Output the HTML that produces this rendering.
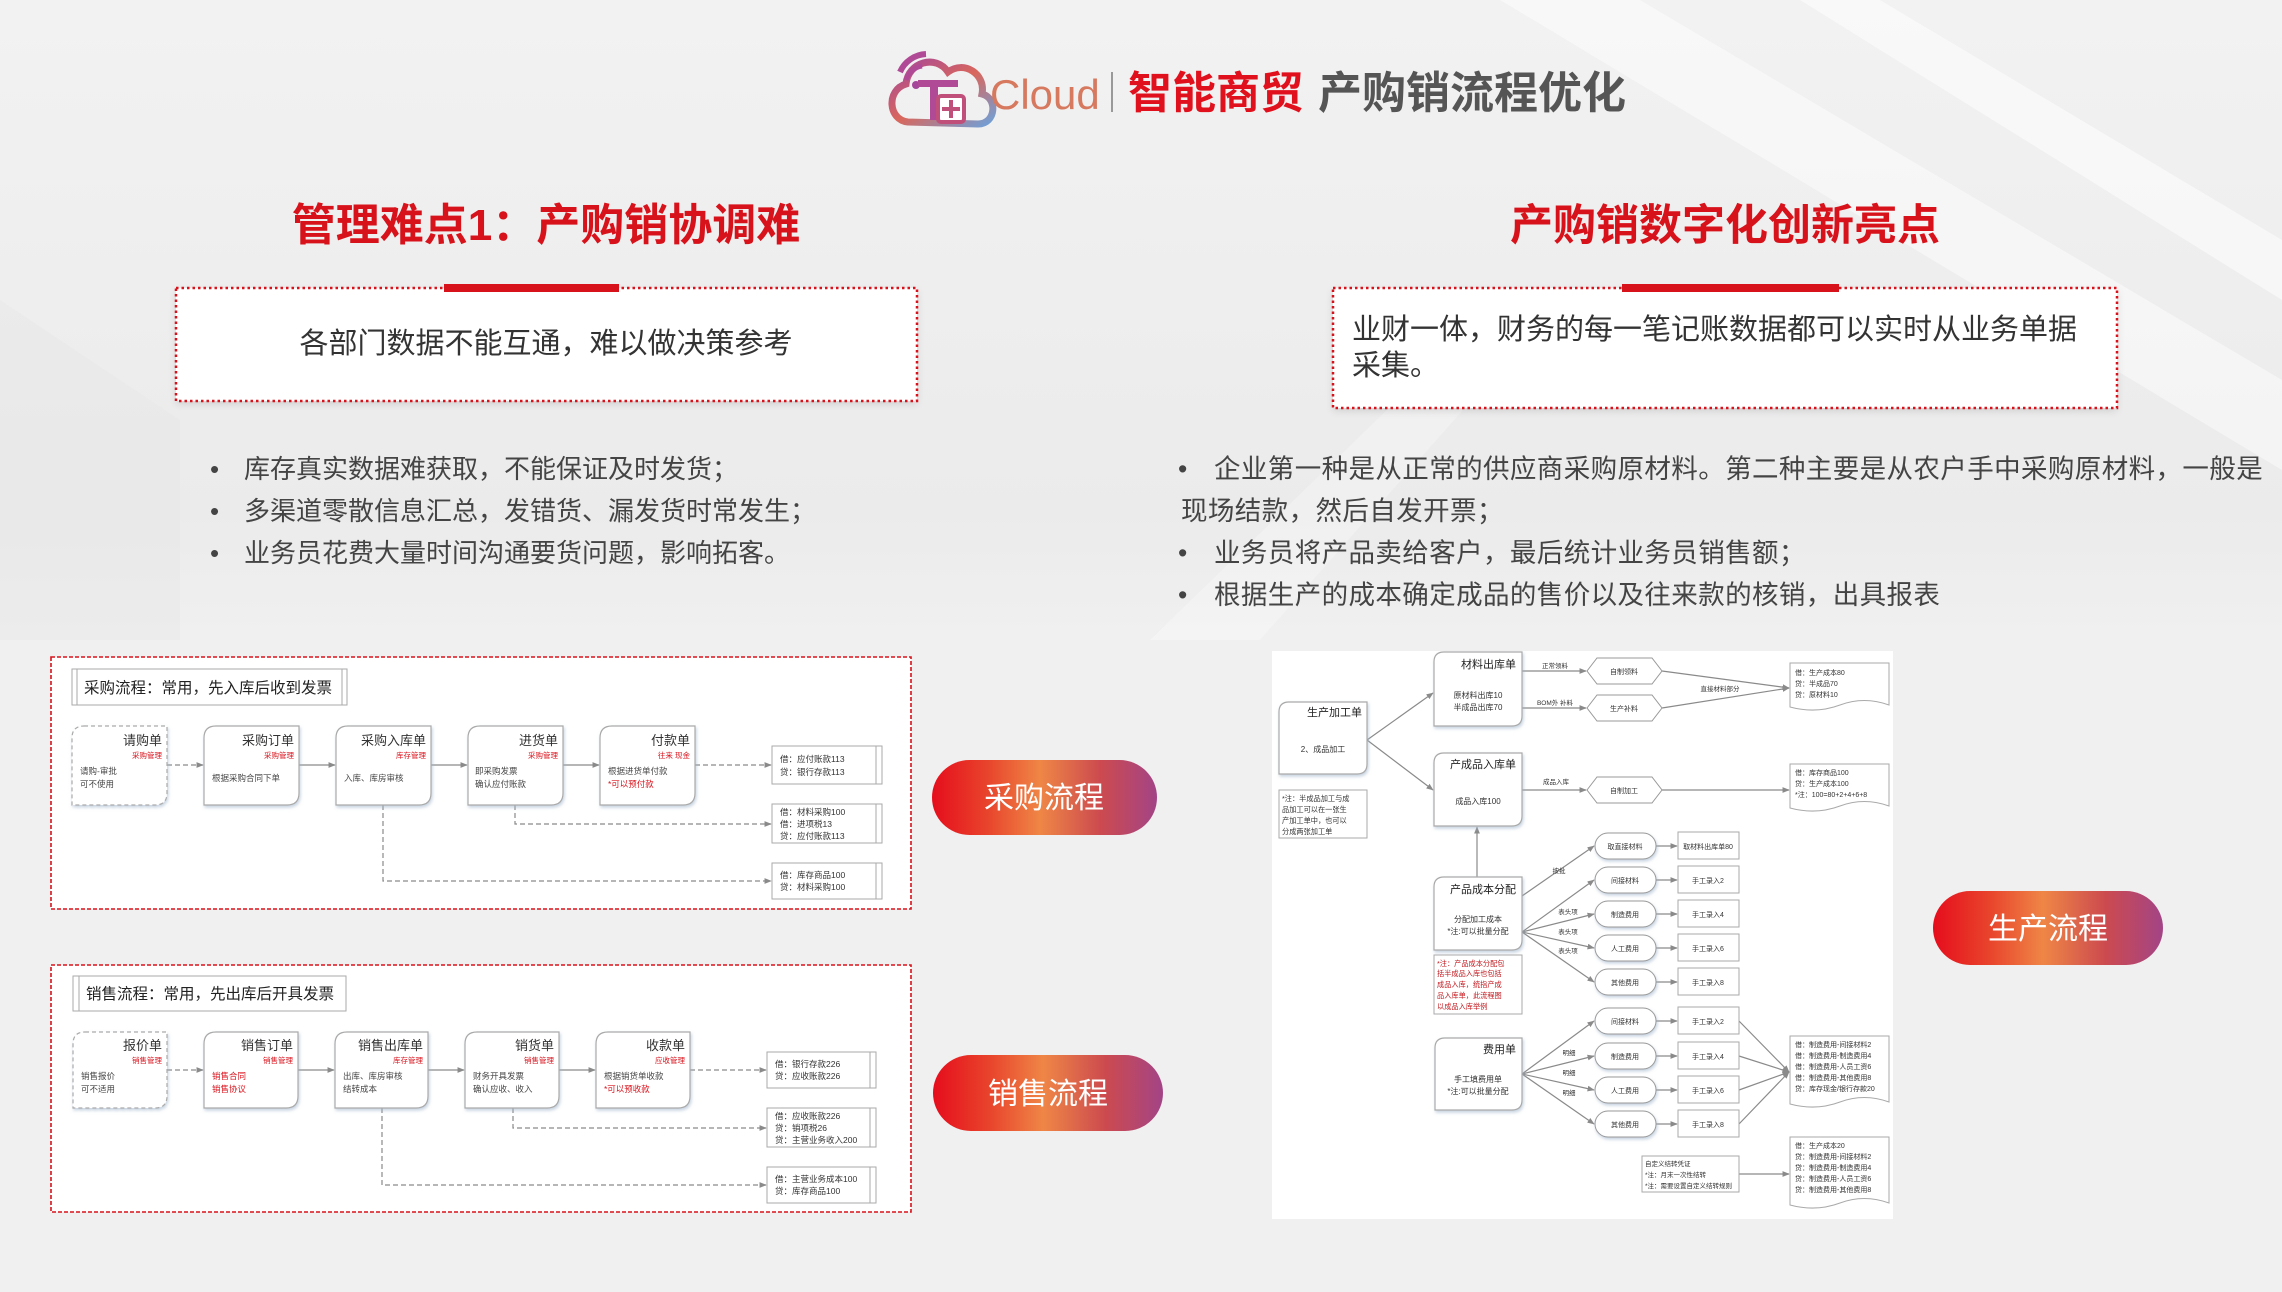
<!DOCTYPE html>
<html><head><meta charset="utf-8"><style>
html,body{margin:0;padding:0;}
body{width:2282px;height:1292px;overflow:hidden;background:#f0f0f0;font-family:"Liberation Sans","Noto Sans CJK SC",sans-serif;}
svg{position:absolute;left:0;top:0;}
svg text{font-family:"Liberation Sans","Noto Sans CJK SC",sans-serif;}
</style></head><body>
<svg width="2282" height="1292" viewBox="0 0 2282 1292" xmlns="http://www.w3.org/2000/svg">
<defs>
<linearGradient id="bgtop" x1="0" y1="0" x2="0" y2="1">
<stop offset="0" stop-color="#f2f2f2"/><stop offset="0.8" stop-color="#ebebeb"/><stop offset="1" stop-color="#f0f0f0"/>
</linearGradient>
<linearGradient id="pill" x1="0" y1="0" x2="1" y2="0">
<stop offset="0" stop-color="#e60d1c"/><stop offset="0.25" stop-color="#e8452c"/><stop offset="0.48" stop-color="#ef8646"/><stop offset="0.75" stop-color="#cc4a4f"/><stop offset="1" stop-color="#a34486"/>
</linearGradient>
<linearGradient id="logo" x1="0" y1="0" x2="1" y2="1">
<stop offset="0" stop-color="#a5479a"/><stop offset="0.5" stop-color="#d9675c"/><stop offset="1" stop-color="#6fa0d8"/>
</linearGradient>
<marker id="ar" viewBox="0 0 10 10" refX="9" refY="5" markerWidth="6" markerHeight="6" orient="auto"><path d="M0 1 L10 5 L0 9 Z" fill="#8a8a8a"/></marker>
<filter id="sh" x="-10%" y="-10%" width="130%" height="140%"><feDropShadow dx="1" dy="2" stdDeviation="1.5" flood-color="#9fb4cc" flood-opacity="0.6"/></filter>
<filter id="sh2" x="-5%" y="-10%" width="110%" height="130%"><feDropShadow dx="0" dy="3" stdDeviation="4" flood-color="#000" flood-opacity="0.12"/></filter>
</defs>
<rect x="0" y="0" width="2282" height="640" fill="url(#bgtop)"/>
<polygon points="1500,0 1640,0 2282,380 2282,470" fill="#ffffff" opacity="0.45"/>
<polygon points="1800,0 1880,0 2282,240 2282,300" fill="#ffffff" opacity="0.5"/>
<polygon points="1150,640 1500,300 1560,300 1260,640" fill="#ffffff" opacity="0.25"/>
<polygon points="0,300 180,420 180,640 0,640" fill="#e4e4e4" opacity="0.35"/>

<!-- Header -->
<g transform="translate(886,50)">
<path d="M22 72 C2 70 0 40 20 34 C22 12 50 4 62 22 C78 10 100 24 96 44 C112 48 110 74 92 74 Z" fill="none" stroke="url(#logo)" stroke-width="7"/>
<path d="M14 22 A30 30 0 0 1 40 4" fill="none" stroke="#b04a96" stroke-width="6"/>
<path d="M20 30 A20 20 0 0 1 36 16" fill="none" stroke="#b04a96" stroke-width="5"/>
<circle cx="30" cy="35" r="4" fill="#a5479a"/>
<rect x="32" y="30" width="40" height="7" fill="#b04a96"/>
<rect x="44" y="30" width="8" height="40" fill="#b04a96"/>
<rect x="52" y="46" width="26" height="26" rx="3" fill="#fff" stroke="#c0507a" stroke-width="4"/>
<rect x="63" y="50" width="4" height="18" fill="#c0507a"/><rect x="56" y="57" width="18" height="4" fill="#c0507a"/>
</g>
<text x="990" y="109" font-size="42" fill="#d6795f">Cloud</text>
<rect x="1111" y="72" width="2" height="40" fill="#999"/>
<text x="1128" y="108" font-size="44" font-weight="bold" fill="#e0101c">智能商贸</text>
<text x="1318" y="108" font-size="44" font-weight="bold" fill="#555">产购销流程优化</text>

<!-- Left heading -->
<text x="546" y="240" font-size="44" font-weight="bold" fill="#d8121b" text-anchor="middle">管理难点1：产购销协调难</text>
<rect x="176" y="288" width="741" height="113" fill="#fff" filter="url(#sh2)"/>
<rect x="176" y="288" width="741" height="113" fill="none" stroke="#d8121b" stroke-width="2.5" stroke-dasharray="2.5 3"/>
<rect x="444" y="284" width="175" height="8" fill="#d8121b"/>
<text x="546" y="353" font-size="29" fill="#333" text-anchor="middle">各部门数据不能互通，难以做决策参考</text>
<g font-size="26" fill="#444">
<text x="210" y="478">•</text><text x="244" y="478">库存真实数据难获取，不能保证及时发货；</text>
<text x="210" y="520">•</text><text x="244" y="520">多渠道零散信息汇总，发错货、漏发货时常发生；</text>
<text x="210" y="562">•</text><text x="244" y="562">业务员花费大量时间沟通要货问题，影响拓客。</text>
</g>

<!-- Right heading -->
<text x="1725" y="240" font-size="43" font-weight="bold" fill="#d8121b" text-anchor="middle">产购销数字化创新亮点</text>
<rect x="1333" y="288" width="784" height="120" fill="#fff" filter="url(#sh2)"/>
<rect x="1333" y="288" width="784" height="120" fill="none" stroke="#d8121b" stroke-width="2.5" stroke-dasharray="2.5 3"/>
<rect x="1622" y="284" width="217" height="8" fill="#d8121b"/>
<text x="1352" y="339" font-size="29" fill="#333">业财一体，财务的每一笔记账数据都可以实时从业务单据</text>
<text x="1352" y="375" font-size="29" fill="#333">采集。</text>
<g font-size="26.5" fill="#444" letter-spacing="0.4">
<text x="1178" y="478">•</text><text x="1214" y="478">企业第一种是从正常的供应商采购原材料。第二种主要是从农户手中采购原材料，一般是</text>
<text x="1181" y="520">现场结款，然后自发开票；</text>
<text x="1178" y="562">•</text><text x="1214" y="562">业务员将产品卖给客户，最后统计业务员销售额；</text>
<text x="1178" y="604">•</text><text x="1214" y="604">根据生产的成本确定成品的售价以及往来款的核销，出具报表</text>
</g>

<!-- Pills -->
<rect x="932" y="760" width="225" height="75" rx="37.5" fill="url(#pill)"/>
<text x="1044" y="808" font-size="30" fill="#fff" text-anchor="middle">采购流程</text>
<rect x="933" y="1055" width="230" height="76" rx="38" fill="url(#pill)"/>
<text x="1048" y="1104" font-size="30" fill="#fff" text-anchor="middle">销售流程</text>
<rect x="1933" y="891" width="230" height="74" rx="37" fill="url(#pill)"/>
<text x="2048" y="939" font-size="30" fill="#fff" text-anchor="middle">生产流程</text>

<!-- Purchase panel -->
<rect x="51" y="657" width="860" height="252" fill="#fff" stroke="#d8121b" stroke-width="1.6" stroke-dasharray="4 2"/>
<rect x="72" y="669" width="275" height="36" fill="#fff" stroke="#aaa"/>
<line x1="77" y1="669" x2="77" y2="705" stroke="#aaa"/><line x1="342" y1="669" x2="342" y2="705" stroke="#aaa"/>
<text x="84" y="693" font-size="15.5" fill="#222">采购流程：常用，先入库后收到发票</text>
<g stroke="#8a8a8a" stroke-width="1.2" fill="none">
<line x1="167" y1="765" x2="203" y2="765" stroke-dasharray="5 3" marker-end="url(#ar)"/>
<line x1="299" y1="765" x2="335" y2="765" marker-end="url(#ar)"/>
<line x1="431" y1="765" x2="467" y2="765" marker-end="url(#ar)"/>
<line x1="563" y1="765" x2="599" y2="765" marker-end="url(#ar)"/>
<line x1="695" y1="765" x2="771" y2="765" stroke-dasharray="5 3" marker-end="url(#ar)"/>
<polyline points="515,805 515,824 771,824" stroke-dasharray="5 3" marker-end="url(#ar)"/>
<polyline points="383,805 383,881 771,881" stroke-dasharray="5 3" marker-end="url(#ar)"/>
</g>
<g fill="#fff" stroke="#aaa" stroke-width="1.2" filter="url(#sh)">
<path d="M84 726 H167 V793 Q167 805 155 805 H72 V738 Q72 726 84 726 Z" stroke-dasharray="4 3"/>
<path d="M216 726 H299 V793 Q299 805 287 805 H204 V738 Q204 726 216 726 Z"/>
<path d="M348 726 H431 V793 Q431 805 419 805 H336 V738 Q336 726 348 726 Z"/>
<path d="M480 726 H563 V793 Q563 805 551 805 H468 V738 Q468 726 480 726 Z"/>
<path d="M612 726 H695 V793 Q695 805 683 805 H600 V738 Q600 726 612 726 Z"/>
</g>
<g font-size="13" fill="#333" text-anchor="end">
<text x="162" y="745">请购单</text><text x="294" y="745">采购订单</text><text x="426" y="745">采购入库单</text><text x="558" y="745">进货单</text><text x="690" y="745">付款单</text>
</g>
<g font-size="7.5" fill="#d8121b" text-anchor="end">
<text x="162" y="758">采购管理</text><text x="294" y="758">采购管理</text><text x="426" y="758">库存管理</text><text x="558" y="758">采购管理</text><text x="690" y="758">往来 现金</text>
</g>
<g font-size="8.5" fill="#444">
<text x="80" y="774">请购-审批</text><text x="80" y="787">可不使用</text>
<text x="212" y="781">根据采购合同下单</text>
<text x="344" y="781">入库、库房审核</text>
<text x="475" y="774">即采购发票</text><text x="475" y="787">确认应付账款</text>
<text x="608" y="774">根据进货单付款</text><text x="608" y="787" fill="#d8121b">*可以预付款</text>
</g>
<g fill="#fff" stroke="#aaa">
<rect x="772" y="746" width="110" height="38"/><line x1="876" y1="746" x2="876" y2="784"/>
<rect x="772" y="804" width="110" height="39"/><line x1="876" y1="804" x2="876" y2="843"/>
<rect x="772" y="863" width="110" height="36"/><line x1="876" y1="863" x2="876" y2="899"/>
</g>
<g font-size="8.5" fill="#333">
<text x="780" y="762">借：应付账款113</text><text x="780" y="775">贷：银行存款113</text>
<text x="780" y="815">借：材料采购100</text><text x="780" y="827">借：进项税13</text><text x="780" y="839">贷：应付账款113</text>
<text x="780" y="878">借：库存商品100</text><text x="780" y="890">贷：材料采购100</text>
</g>

<!-- Sales panel -->
<rect x="51" y="965" width="860" height="247" fill="#fff" stroke="#d8121b" stroke-width="1.6" stroke-dasharray="4 2"/>
<rect x="73" y="976" width="273" height="35" fill="#fff" stroke="#aaa"/>
<line x1="79" y1="976" x2="79" y2="1011" stroke="#aaa"/>
<text x="86" y="999" font-size="15.5" fill="#222">销售流程：常用，先出库后开具发票</text>
<g stroke="#8a8a8a" stroke-width="1.2" fill="none">
<line x1="167" y1="1070" x2="203" y2="1070" stroke-dasharray="5 3" marker-end="url(#ar)"/>
<line x1="298" y1="1070" x2="334" y2="1070" marker-end="url(#ar)"/>
<line x1="428" y1="1070" x2="464" y2="1070" marker-end="url(#ar)"/>
<line x1="559" y1="1070" x2="595" y2="1070" marker-end="url(#ar)"/>
<line x1="690" y1="1070" x2="766" y2="1070" stroke-dasharray="5 3" marker-end="url(#ar)"/>
<polyline points="513,1108 513,1128 766,1128" stroke-dasharray="5 3" marker-end="url(#ar)"/>
<polyline points="382,1108 382,1185 766,1185" stroke-dasharray="5 3" marker-end="url(#ar)"/>
</g>
<g fill="#fff" stroke="#aaa" stroke-width="1.2" filter="url(#sh)">
<path d="M85 1032 H167 V1096 Q167 1108 155 1108 H73 V1044 Q73 1032 85 1032 Z" stroke-dasharray="4 3"/>
<path d="M216 1032 H298 V1096 Q298 1108 286 1108 H204 V1044 Q204 1032 216 1032 Z"/>
<path d="M347 1032 H428 V1096 Q428 1108 416 1108 H335 V1044 Q335 1032 347 1032 Z"/>
<path d="M477 1032 H559 V1096 Q559 1108 547 1108 H465 V1044 Q465 1032 477 1032 Z"/>
<path d="M608 1032 H690 V1096 Q690 1108 678 1108 H596 V1044 Q596 1032 608 1032 Z"/>
</g>
<g font-size="13" fill="#333" text-anchor="end">
<text x="162" y="1050">报价单</text><text x="293" y="1050">销售订单</text><text x="423" y="1050">销售出库单</text><text x="554" y="1050">销货单</text><text x="685" y="1050">收款单</text>
</g>
<g font-size="7.5" fill="#d8121b" text-anchor="end">
<text x="162" y="1063">销售管理</text><text x="293" y="1063">销售管理</text><text x="423" y="1063">库存管理</text><text x="554" y="1063">销售管理</text><text x="685" y="1063">应收管理</text>
</g>
<g font-size="8.5" fill="#444">
<text x="81" y="1079">销售报价</text><text x="81" y="1092">可不适用</text>
<text x="212" y="1079" fill="#d8121b">销售合同</text><text x="212" y="1092" fill="#d8121b">销售协议</text>
<text x="343" y="1079">出库、库房审核</text><text x="343" y="1092">结转成本</text>
<text x="473" y="1079">财务开具发票</text><text x="473" y="1092">确认应收、收入</text>
<text x="604" y="1079">根据销货单收款</text><text x="604" y="1092" fill="#d8121b">*可以预收款</text>
</g>
<g fill="#fff" stroke="#aaa">
<rect x="767" y="1052" width="109" height="36"/><line x1="870" y1="1052" x2="870" y2="1088"/>
<rect x="767" y="1108" width="109" height="39"/><line x1="870" y1="1108" x2="870" y2="1147"/>
<rect x="767" y="1167" width="109" height="36"/><line x1="870" y1="1167" x2="870" y2="1203"/>
</g>
<g font-size="8.5" fill="#333">
<text x="775" y="1067">借：银行存款226</text><text x="775" y="1079">贷：应收账款226</text>
<text x="775" y="1119">借：应收账款226</text><text x="775" y="1131">贷：销项税26</text><text x="775" y="1143">贷：主营业务收入200</text>
<text x="775" y="1182">借：主营业务成本100</text><text x="775" y="1194">贷：库存商品100</text>
</g>

<!-- Production panel -->
<rect x="1272" y="651" width="621" height="568" fill="#fff"/>
<g stroke="#8a8a8a" stroke-width="1.2" fill="none">
<line x1="1367" y1="740" x2="1433" y2="693" marker-end="url(#ar)"/>
<line x1="1367" y1="740" x2="1433" y2="790" marker-end="url(#ar)"/>
<line x1="1522" y1="671" x2="1586" y2="671" marker-end="url(#ar)"/>
<line x1="1522" y1="708" x2="1586" y2="708" marker-end="url(#ar)"/>
<line x1="1662" y1="671" x2="1789" y2="688" marker-end="url(#ar)"/>
<line x1="1662" y1="708" x2="1789" y2="688" marker-end="url(#ar)"/>
<line x1="1522" y1="790" x2="1586" y2="790" marker-end="url(#ar)"/>
<line x1="1662" y1="790" x2="1789" y2="790" marker-end="url(#ar)"/>
<line x1="1477" y1="877" x2="1477" y2="827" marker-end="url(#ar)"/>
<line x1="1522" y1="896" x2="1594" y2="846" marker-end="url(#ar)"/>
<line x1="1522" y1="932" x2="1594" y2="880" marker-end="url(#ar)"/>
<line x1="1522" y1="932" x2="1594" y2="914" marker-end="url(#ar)"/>
<line x1="1522" y1="932" x2="1594" y2="948" marker-end="url(#ar)"/>
<line x1="1522" y1="932" x2="1594" y2="982" marker-end="url(#ar)"/>
<line x1="1522" y1="1074" x2="1594" y2="1021" marker-end="url(#ar)"/>
<line x1="1522" y1="1074" x2="1594" y2="1056" marker-end="url(#ar)"/>
<line x1="1522" y1="1074" x2="1594" y2="1090" marker-end="url(#ar)"/>
<line x1="1522" y1="1074" x2="1594" y2="1124" marker-end="url(#ar)"/>
<line x1="1656" y1="846" x2="1677" y2="846" marker-end="url(#ar)"/>
<line x1="1656" y1="880" x2="1677" y2="880" marker-end="url(#ar)"/>
<line x1="1656" y1="914" x2="1677" y2="914" marker-end="url(#ar)"/>
<line x1="1656" y1="948" x2="1677" y2="948" marker-end="url(#ar)"/>
<line x1="1656" y1="982" x2="1677" y2="982" marker-end="url(#ar)"/>
<line x1="1656" y1="1021" x2="1677" y2="1021" marker-end="url(#ar)"/>
<line x1="1656" y1="1056" x2="1677" y2="1056" marker-end="url(#ar)"/>
<line x1="1656" y1="1090" x2="1677" y2="1090" marker-end="url(#ar)"/>
<line x1="1656" y1="1124" x2="1677" y2="1124" marker-end="url(#ar)"/>
<line x1="1739" y1="1021" x2="1789" y2="1072" marker-end="url(#ar)"/>
<line x1="1739" y1="1056" x2="1789" y2="1072" marker-end="url(#ar)"/>
<line x1="1739" y1="1090" x2="1789" y2="1072" marker-end="url(#ar)"/>
<line x1="1739" y1="1124" x2="1789" y2="1072" marker-end="url(#ar)"/>
<line x1="1739" y1="1174" x2="1789" y2="1174" marker-end="url(#ar)"/>
</g>
<g fill="#fff" stroke="#aaa" stroke-width="1.2" filter="url(#sh)">
<path d="M1289 702 H1367 V764 Q1367 774 1357 774 H1279 V712 Q1279 702 1289 702 Z"/>
<path d="M1444 652 H1522 V716 Q1522 726 1512 726 H1434 V662 Q1434 652 1444 652 Z"/>
<path d="M1444 753 H1522 V816 Q1522 826 1512 826 H1434 V763 Q1434 753 1444 753 Z"/>
<path d="M1444 877 H1522 V940 Q1522 950 1512 950 H1434 V887 Q1434 877 1444 877 Z"/>
<path d="M1445 1038 H1522 V1100 Q1522 1110 1512 1110 H1435 V1048 Q1435 1038 1445 1038 Z"/>
</g>
<rect x="1279" y="790" width="88" height="48" fill="#fff" stroke="#aaa"/>
<rect x="1434" y="955" width="88" height="59" fill="#fff" stroke="#aaa"/>
<g fill="#fff" stroke="#999">
<path d="M1587 671 L1597 658 H1652 L1662 671 L1652 684 H1597 Z"/>
<path d="M1587 708 L1597 695 H1652 L1662 708 L1652 721 H1597 Z"/>
<path d="M1587 790 L1597 777 H1652 L1662 790 L1652 803 H1597 Z"/>
</g>
<g fill="#fff" stroke="#999" filter="url(#sh)">
<rect x="1595" y="833" width="61" height="26" rx="13"/><rect x="1595" y="867" width="61" height="26" rx="13"/><rect x="1595" y="901" width="61" height="26" rx="13"/><rect x="1595" y="935" width="61" height="26" rx="13"/><rect x="1595" y="969" width="61" height="26" rx="13"/>
<rect x="1595" y="1008" width="61" height="26" rx="13"/><rect x="1595" y="1043" width="61" height="26" rx="13"/><rect x="1595" y="1077" width="61" height="26" rx="13"/><rect x="1595" y="1111" width="61" height="26" rx="13"/>
</g>
<g fill="#fff" stroke="#aaa">
<rect x="1678" y="832" width="61" height="27"/><rect x="1678" y="866" width="61" height="27"/><rect x="1678" y="900" width="61" height="27"/><rect x="1678" y="934" width="61" height="27"/><rect x="1678" y="968" width="61" height="27"/>
<rect x="1678" y="1007" width="61" height="27"/><rect x="1678" y="1042" width="61" height="27"/><rect x="1678" y="1076" width="61" height="27"/><rect x="1678" y="1110" width="61" height="27"/>
<rect x="1642" y="1156" width="97" height="36"/>
<path d="M1790 663 H1889 V705 Q1864 696 1840 705 T1790 707 Z"/>
<path d="M1790 764 H1889 V806 Q1864 797 1840 806 T1790 808 Z"/>
<path d="M1790 1036 H1889 V1102 Q1864 1093 1840 1102 T1790 1104 Z"/>
<path d="M1790 1137 H1889 V1203 Q1864 1194 1840 1203 T1790 1205 Z"/>
</g>
<g font-size="11" fill="#222" text-anchor="end">
<text x="1362" y="716">生产加工单</text>
<text x="1516" y="668">材料出库单</text>
<text x="1516" y="768">产成品入库单</text>
<text x="1516" y="893">产品成本分配</text>
<text x="1516" y="1053">费用单</text>
</g>
<g font-size="8" fill="#333" text-anchor="middle">
<text x="1323" y="752">2、成品加工</text>
<text x="1478" y="698">原材料出库10</text><text x="1478" y="710">半成品出库70</text>
<text x="1478" y="804">成品入库100</text>
<text x="1478" y="922">分配加工成本</text><text x="1478" y="934">*注:可以批量分配</text>
<text x="1478" y="1082">手工填费用单</text><text x="1478" y="1094">*注:可以批量分配</text>
</g>
<g font-size="7.2" fill="#333">
<text x="1282" y="801">*注：半成品加工与成</text><text x="1282" y="812">品加工可以在一张生</text><text x="1282" y="823">产加工单中，也可以</text><text x="1282" y="834">分成两张加工单</text>
</g>
<g font-size="7.2" fill="#c0181e">
<text x="1437" y="966">*注：产品成本分配包</text><text x="1437" y="976">括半成品入库也包括</text><text x="1437" y="987">成品入库，统指产成</text><text x="1437" y="998">品入库单，此流程图</text><text x="1437" y="1009">以成品入库举例</text>
</g>
<g font-size="7" fill="#333" text-anchor="middle">
<text x="1624" y="674">自制领料</text><text x="1624" y="711">生产补料</text><text x="1624" y="793">自制加工</text>
<text x="1625" y="849">取直接材料</text><text x="1625" y="883">间接材料</text><text x="1625" y="917">制造费用</text><text x="1625" y="951">人工费用</text><text x="1625" y="985">其他费用</text>
<text x="1625" y="1024">间接材料</text><text x="1625" y="1059">制造费用</text><text x="1625" y="1093">人工费用</text><text x="1625" y="1127">其他费用</text>
<text x="1708" y="849">取材料出库单80</text><text x="1708" y="883">手工录入2</text><text x="1708" y="917">手工录入4</text><text x="1708" y="951">手工录入6</text><text x="1708" y="985">手工录入8</text>
<text x="1708" y="1024">手工录入2</text><text x="1708" y="1059">手工录入4</text><text x="1708" y="1093">手工录入6</text><text x="1708" y="1127">手工录入8</text>
</g>
<g font-size="6.5" fill="#333" text-anchor="middle">
<text x="1555" y="668">正常领料</text><text x="1555" y="705">BOM外 补料</text><text x="1720" y="691">直接材料部分</text><text x="1556" y="784">成品入库</text>
<text x="1559" y="873">按批</text><text x="1568" y="914">表头项</text><text x="1568" y="934">表头项</text><text x="1568" y="953">表头项</text>
<text x="1569" y="1055">明细</text><text x="1569" y="1075">明细</text><text x="1569" y="1095">明细</text>
</g>
<g font-size="7" fill="#333">
<text x="1795" y="675">借：生产成本80</text><text x="1795" y="686">贷：半成品70</text><text x="1795" y="697">贷：原材料10</text>
<text x="1795" y="775">借：库存商品100</text><text x="1795" y="786">贷：生产成本100</text><text x="1795" y="797">*注：100=80+2+4+6+8</text>
<text x="1795" y="1047">借：制造费用-间接材料2</text><text x="1795" y="1058">借：制造费用-制造费用4</text><text x="1795" y="1069">借：制造费用-人员工资6</text><text x="1795" y="1080">借：制造费用-其他费用8</text><text x="1795" y="1091">贷：库存现金/银行存款20</text>
<text x="1795" y="1148">借：生产成本20</text><text x="1795" y="1159">贷：制造费用-间接材料2</text><text x="1795" y="1170">贷：制造费用-制造费用4</text><text x="1795" y="1181">贷：制造费用-人员工资6</text><text x="1795" y="1192">贷：制造费用-其他费用8</text>
<text x="1645" y="1166" font-size="6.5">自定义结转凭证</text><text x="1645" y="1177" font-size="6.5">*注：月末一次性结转</text><text x="1645" y="1188" font-size="6.5">*注：需要设置自定义结转规则</text>
</g>
</svg>
</body></html>
